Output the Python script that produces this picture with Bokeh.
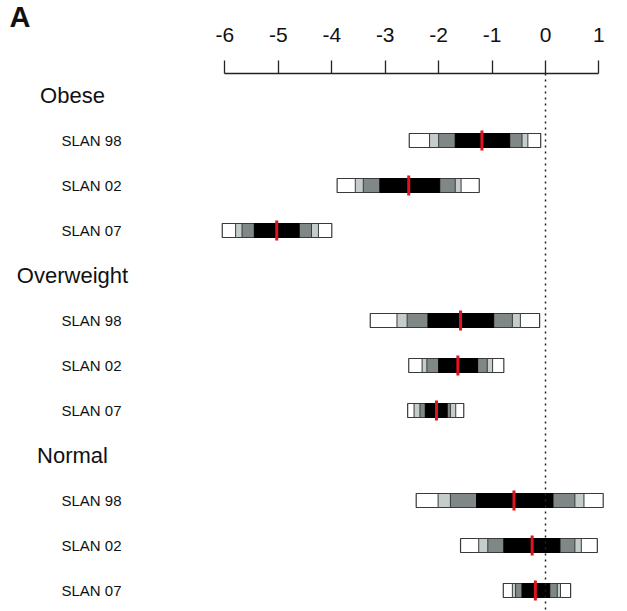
from bokeh.plotting import figure
from bokeh.models import Range1d, Span, FixedTicker, ColumnDataSource, Title
from bokeh.core.properties import value
from bokeh.embed import file_html
from bokeh.resources import INLINE

# ---- data ----
groups = ["Obese", "Overweight", "Normal"]
surveys = ["SLAN 98", "SLAN 02", "SLAN 07"]
outer_lo = [-2.55, -3.90, -6.05, -3.28, -2.56, -2.58, -2.42, -1.59, -0.79]
outer_hi = [-0.09, -1.24, -4.00, -0.11, -0.78, -1.53, 1.08, 0.97, 0.47]
mid_lo = [-2.17, -3.56, -5.80, -2.78, -2.31, -2.46, -2.01, -1.25, -0.62]
mid_hi = [-0.33, -1.58, -4.25, -0.47, -0.99, -1.68, 0.72, 0.67, 0.28]
inner_lo = [-2.00, -3.41, -5.68, -2.59, -2.22, -2.35, -1.78, -1.08, -0.56]
inner_hi = [-0.44, -1.69, -4.38, -0.62, -1.09, -1.78, 0.55, 0.55, 0.22]
core_lo = [-1.69, -3.10, -5.45, -2.20, -2.00, -2.25, -1.29, -0.78, -0.44]
core_hi = [-0.67, -1.98, -4.61, -0.97, -1.27, -1.84, 0.14, 0.27, 0.08]
median = [-1.19, -2.56, -5.03, -1.59, -1.64, -2.04, -0.59, -0.25, -0.19]
tick_values = [-6, -5, -4, -3, -2, -1, 0, 1]
tick_labels = ["-6", "-5", "-4", "-3", "-2", "-1", "0", "1"]

W, H = 627, 611
px_per_unit = (599 - 225) / 7.0
x0_px = 545.0
frame_top = 73
slot = 45.0
first_slot_px = 95.0

x_start = -x0_px / px_per_unit
x_end = (W - x0_px) / px_per_unit
y_top = (frame_top - first_slot_px) / slot
y_bottom = (H - first_slot_px) / slot

row_y = []
header_y = []
k = 0
for g in groups:
    header_y.append(k)
    k += 1
    for s in surveys:
        row_y.append(k)
        k += 1
row_labels = surveys * len(groups)

p = figure(width=W, height=H, output_backend="svg", toolbar_location=None,
           x_range=Range1d(x_start, x_end), y_range=Range1d(y_bottom, y_top),
           x_axis_location="above", min_border_left=0, min_border_right=0,
           min_border_bottom=0, min_border_top=frame_top)
p.outline_line_color = None
p.xgrid.visible = False
p.ygrid.visible = False
p.yaxis.visible = False
p.background_fill_color = "white"
p.border_fill_color = "white"

ax = p.xaxis[0]
ax.ticker = FixedTicker(ticks=tick_values)
ax.major_label_overrides = {v: t for v, t in zip(tick_values, tick_labels)}
ax.bounds = (tick_values[0], tick_values[-1])
ax.axis_line_color = "#222222"
ax.axis_line_width = 1.3
ax.major_tick_line_color = "#222222"
ax.major_tick_line_width = 1.3
ax.major_tick_out = 13
ax.major_tick_in = 0
ax.minor_tick_out = 0
ax.minor_tick_in = 0
ax.major_label_standoff = 19
ax.major_label_text_font = "Liberation Sans"
ax.major_label_text_font_size = "21px"
ax.major_label_text_color = "#111111"

p.add_layout(Span(location=0, dimension="height", line_color="#222222",
                  line_width=1.5, line_dash="2 4"))

src = ColumnDataSource(dict(y=row_y, olo=outer_lo, ohi=outer_hi, mlo=mid_lo, mhi=mid_hi,
                            ilo=inner_lo, ihi=inner_hi, clo=core_lo, chi=core_hi,
                            med=median, lab=row_labels))

bh = 14.0 / slot
edge = "#3a3a3a"
p.hbar(y="y", left="olo", right="ohi", height=bh, source=src,
       fill_color="white", line_color=edge, line_width=1.2)
p.hbar(y="y", left="mlo", right="mhi", height=bh, source=src,
       fill_color="#c4cccc", line_color=edge, line_width=1)
p.hbar(y="y", left="ilo", right="ihi", height=bh, source=src,
       fill_color="#7f8787", line_color=edge, line_width=1)
p.hbar(y="y", left="clo", right="chi", height=bh, source=src,
       fill_color="black", line_color="black", line_width=1)

med_src = ColumnDataSource(dict(x=median, y0=[y - 10.0 / slot for y in row_y],
                                y1=[y + 10.0 / slot for y in row_y]))
p.segment(x0="x", x1="x", y0="y0", y1="y1", source=med_src,
          line_color="#e0141e", line_width=3)

label_x = (91 - x0_px) / px_per_unit
p.text(x=label_x, y="y", text="lab", source=src, text_align="center",
       text_baseline="middle", text_font=value("Liberation Sans"),
       text_font_size="15px", text_color="#111111")

header_x = (72 - x0_px) / px_per_unit
p.text(x=[header_x] * len(groups), y=header_y, text=groups, text_align="center",
       text_baseline="middle", text_font=value("Liberation Sans"),
       text_font_size="22px", text_color="#111111")

# panel letter as an outer title in the top panel
p.add_layout(Title(text="A", align="left", offset=9, standoff=-17,
                   text_font="Liberation Sans", text_font_size="29px",
                   text_font_style="bold", text_color="#111111"), "above")

open("out.html", "w").write(file_html(p, INLINE))
